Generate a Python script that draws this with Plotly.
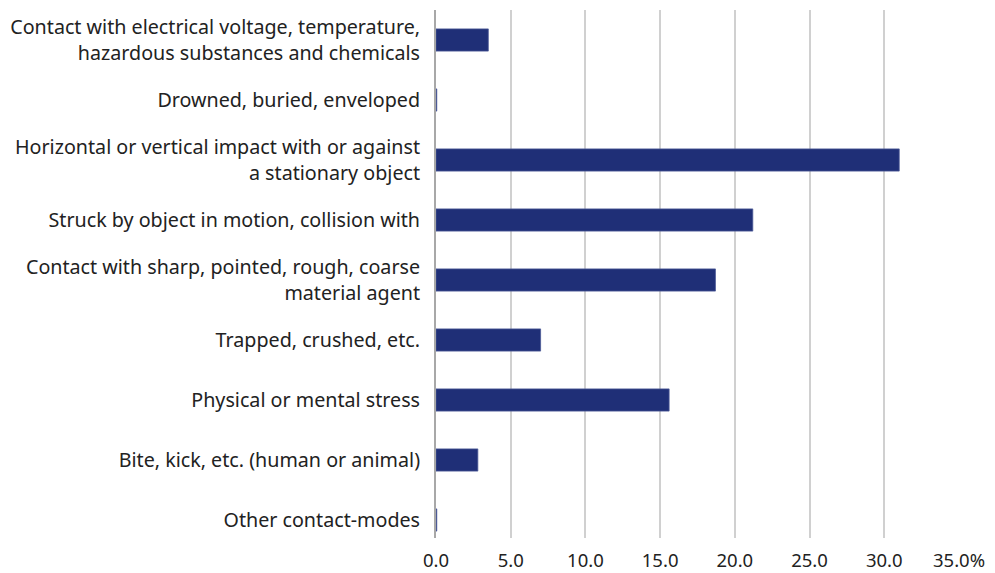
import plotly.graph_objects as go

categories = [
    "Contact with electrical voltage, temperature,<br>hazardous substances and chemicals",
    "Drowned, buried, enveloped",
    "Horizontal or vertical impact with or against<br>a stationary object",
    "Struck by object in motion, collision with",
    "Contact with sharp, pointed, rough, coarse<br>material agent",
    "Trapped, crushed, etc.",
    "Physical or mental stress",
    "Bite, kick, etc. (human or animal)",
    "Other contact-modes",
]
values = [3.5, 0.05, 31.0, 21.2, 18.7, 7.0, 15.6, 2.8, 0.05]
tick_vals = [0, 5, 10, 15, 20, 25, 30, 35]
tick_text = ["0.0", "5.0", "10.0", "15.0", "20.0", "25.0", "30.0", "35.0%"]

fig = go.Figure(
    go.Bar(
        y=list(range(len(categories))),
        x=values,
        orientation="h",
        marker=dict(color="#1f2f77", line=dict(color="#4a5896", width=0.8)),
        width=0.37,
    )
)

fig.update_layout(
    width=995,
    height=573,
    margin=dict(l=428, r=44, t=2, b=43, autoexpand=False),
    paper_bgcolor="white",
    plot_bgcolor="white",
    font=dict(family="Noto Sans, Open Sans, sans-serif", size=19.7, color="#222222"),
    showlegend=False,
    bargap=0.63,
)
fig.update_xaxes(
    range=[0, 35],
    tickvals=tick_vals,
    ticktext=tick_text,
    showgrid=True,
    gridcolor="#d0d0d0",
    gridwidth=1.5,
    zeroline=False,
    ticks="",
    ticklabelstandoff=9,
    tickfont=dict(size=18.5),
)
fig.update_yaxes(
    range=[8.3, -0.5],
    tickvals=list(range(len(categories))),
    ticktext=categories,
    showgrid=False,
    zeroline=False,
    showline=True,
    linecolor="#a8a8a8",
    linewidth=2,
    ticks="",
    ticklabelstandoff=10,
    tickfont=dict(size=19.7),
)

fig.write_html("out.html")
